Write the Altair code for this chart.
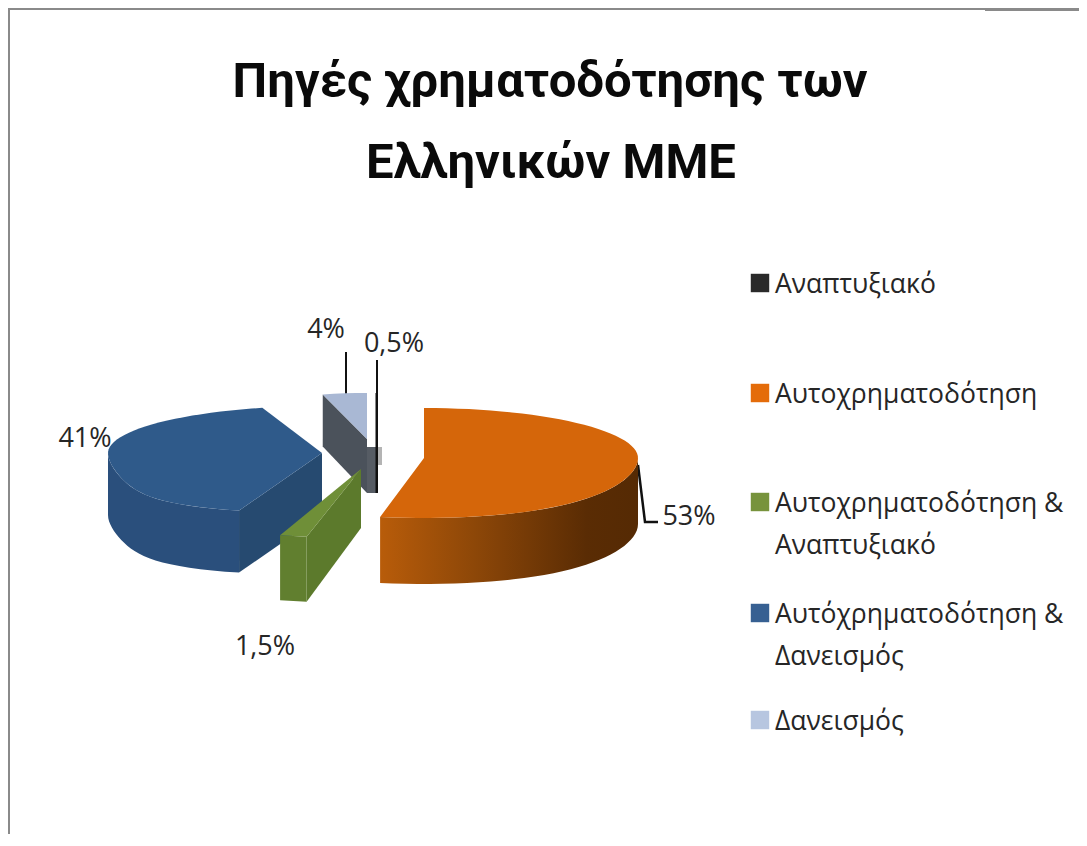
import math
import altair as alt
import pandas as pd

# ---- values ----
categories = ["Αναπτυξιακό", "Αυτοχρηματοδότηση", "Αυτοχρηματοδότηση & Αναπτυξιακό",
              "Αυτοχρηματοδότηση & Δανεισμός", "Δανεισμός"]
shares = [0.5, 53, 1.5, 41, 4]
value_labels = ["0,5%", "53%", "1,5%", "41%", "4%"]
legend_lines = [["Αναπτυξιακό"], ["Αυτοχρηματοδότηση"], ["Αυτοχρηματοδότηση &", "Αναπτυξιακό"],
                ["Αυτόχρηματοδότηση &", "Δανεισμός"], ["Δανεισμός"]]
title_lines = ["Πηγές χρηματοδότησης των", "Ελληνικών ΜΜΕ"]

# ---- styles / layout ----
W, H = 1071, 826
top_colors = ["#2b2e33", "#d5660a", "#6f8f38", "#2f5a8a", "#a9b8d4"]
wall_colors = ["#3a3f46", "#a85408", "#5c7a2c", "#264a70", "#4b525b"]
legend_colors = ["#2a2a2a", "#e46c0a", "#77933c", "#376092", "#b7c6e0"]
# exploded slice geometry: apex x, apex y, rx, back ry, front ry, wall height, front perspective
geom = [(376, 447, 100, 54, 54, 46, 0), (424, 458, 214, 50, 60, 66, 0.1), (361, 469, 290, 69, 69, 65, 0),
        (322, 453, 214, 47, 60, 62, 0.44), (367, 439, 178, 46, 46, 54, 0)]
angle_shift = [0, 0, 0, 0, 1.8]
label_pos = [(394, 352), (689, 525), (265, 655), (85, 447), (326, 338)]
legend_y = [293, 403, 512, 623, 730]
FONT = "Open Sans"

xs = alt.Scale(domain=[8, 8 + W], range=[0, W], nice=False, zero=False)
ys = alt.Scale(domain=[8, 8 + H], range=[0, H], nice=False, zero=False)
X = alt.X("x:Q", scale=xs, axis=None)
Y = alt.Y("y:Q", scale=ys, axis=None)


def poly(points, fill):
    df = pd.DataFrame({"x": [p[0] for p in points], "y": [p[1] for p in points],
                       "i": range(len(points))})
    return alt.Chart(df).mark_line(fill=fill, strokeWidth=0, interpolate="linear").encode(
        x=X, y=Y, order="i:Q")


def pt(g, deg, dz=0):
    cx, cy, rx, rb, rf, h, k = g
    a = math.radians(deg)
    c = math.cos(a)
    widen = 1 + k * max(0.0, -c) ** 3
    return (cx + rx * math.sin(a) * widen, cy - (rb if c > 0 else rf) * c + dz)


def arc(g, a0, a1, dz=0):
    n = max(2, int(abs(a1 - a0) / 3) + 1)
    return [pt(g, a0 + (a1 - a0) * j / (n - 1), dz) for j in range(n)]


# slice angles, clockwise from 12 o'clock; the second slice starts exactly at the top
total = sum(shares)
angles = []
acc = -shares[0] / total * 360
for s, d in zip(shares, angle_shift):
    angles.append((acc + d, acc + d + s / total * 360))
    acc += s / total * 360

orange_grad = alt.Gradient(gradient="linear", x1=0, x2=1, y1=0, y2=0,
                           stops=[alt.GradientStop(color="#b85c0a", offset=0),
                                  alt.GradientStop(color="#8f4808", offset=0.35),
                                  alt.GradientStop(color="#5a2c04", offset=0.8),
                                  alt.GradientStop(color="#552a04", offset=1)])

layers = []

# frame
frame = [[(9, 8), (9, 8 + H)], [(8, 9), (8 + W, 9)], [(985, 10), (8 + W, 10)]]
for seg in frame:
    df = pd.DataFrame({"x": [p[0] for p in seg], "y": [p[1] for p in seg]})
    layers.append(alt.Chart(df).mark_line(color="#8a8a8a", strokeWidth=2).encode(x=X, y=Y))

# title
title_df = pd.DataFrame({"t": title_lines, "x": [550, 551], "y": [97, 178]})
layers.append(alt.Chart(title_df).mark_text(font="Roboto", fontWeight=700, fontSize=49,
                                            color="#0a0a0a", align="center", baseline="alphabetic").encode(
    x=X, y=Y, text="t:N"))

# pale patch behind the smallest slice
layers.append(poly([(367, 447), (382, 447), (382, 465), (367, 465)], "#b4b4b4"))

# leader lines drawn behind slices
for seg, w in [([(346, 352), (346, 395)], 2), ([(377, 360), (377, 395)], 2),
               ([(638, 465), (645, 522), (658, 522)], 2.5)]:
    df = pd.DataFrame({"x": [p[0] for p in seg], "y": [p[1] for p in seg], "i": range(len(seg))})
    layers.append(alt.Chart(df).mark_line(color="#111111", strokeWidth=w).encode(x=X, y=Y, order="i:Q"))

# slices: back to front -> light, dark, blue, orange, green
for i in [4, 0, 3, 1, 2]:
    g = geom[i]
    a0, a1 = angles[i]
    apex = (g[0], g[1])
    h = g[5]
    if i == 0:
        layers.append(poly([(367, 447), (377, 447), (377, 447 + h), (367, 447 + h)], "#565c64"))
        layers.append(poly([(375.5, 393), (378, 393), (378, 447 + h), (375.5, 447 + h)], "#111111"))
        continue
    if i == 1:
        front = arc(g, 90, a1)
        layers.append(poly(front + arc(g, a1, 90, h), orange_grad))
    elif i == 2:
        e = pt(g, a0)
        layers.append(poly([apex, e, (e[0], e[1] + h), (apex[0], apex[1] + h - 6)], wall_colors[2]))
        layers.append(poly(arc(g, a0, a1) + arc(g, a1, a0, h), "#617f2f"))
    elif i == 3:
        e = pt(g, a0)
        front = arc(g, a0, 270)
        layers.append(poly(front + arc(g, 270, a0, h), "#2a4f7c"))
        layers.append(poly([apex, e, (e[0], e[1] + h), (apex[0], apex[1] + h)], wall_colors[3]))
    elif i == 4:
        e = pt(g, a0)
        layers.append(poly([e, apex, (apex[0], apex[1] + h), (e[0], e[1] + h - 2)], wall_colors[4]))
    layers.append(poly([apex] + arc(g, a0, a1), top_colors[i]))

# value labels
lab_df = pd.DataFrame({"t": value_labels, "x": [p[0] for p in label_pos], "y": [p[1] for p in label_pos]})
layers.append(alt.Chart(lab_df).mark_text(font=FONT, fontSize=27, color="#262626", align="center",
                                          baseline="alphabetic").encode(x=X, y=Y, text="t:N"))

# legend
sq_df = pd.DataFrame({"c": categories, "y": [v - 10 for v in legend_y], "x": [760] * 5})
layers.append(alt.Chart(sq_df).mark_square(size=340, opacity=1).encode(
    x=X, y=Y, color=alt.Color("c:N", scale=alt.Scale(domain=categories, range=legend_colors), legend=None)))
rows = []
for lines, y0 in zip(legend_lines, legend_y):
    for j, line in enumerate(lines):
        rows.append({"t": line, "x": 775, "y": y0 + j * 42})
layers.append(alt.Chart(pd.DataFrame(rows)).mark_text(font=FONT, fontSize=26.5, color="#262626", align="left",
                                                      baseline="alphabetic").encode(x=X, y=Y, text="t:N"))

chart = alt.layer(*layers).properties(width=W, height=H, padding=0, background="white",
                                      autosize=alt.AutoSizeParams(type="none")).configure_view(stroke=None)
chart.save("out.html", embed_options={"renderer": "svg", "actions": False})
